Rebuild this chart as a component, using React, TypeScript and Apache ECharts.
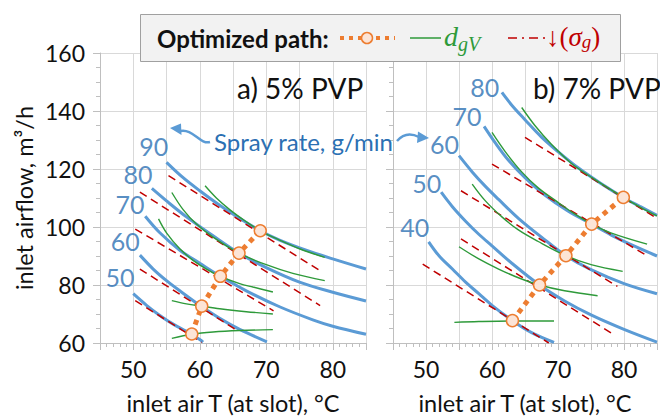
import React, { useEffect, useRef } from 'react';
import * as echarts from 'echarts';

// ---------- Panel a) 5% PVP ----------
const aRateNames = ['50', '60', '70', '80', '90'];
const aRateLabelAt = [[48.0, 82.8], [48.8, 95.2], [49.5, 107.9], [50.7, 118.3], [53.1, 127.9]];
const aRate50 = [[50, 77], [52, 73], [54, 69.5], [56, 66.5], [58, 64], [60, 61.2], [60.5, 60.3]];
const aRate60 = [[51, 90.3], [53, 85.5], [55, 81.5], [57, 78], [60, 73], [63, 68.5], [66, 64.7], [70.1, 60.4]];
const aRate70 = [[51.8, 103.7], [54, 98], [57, 92], [60, 87.5], [63.1, 83], [67, 78], [72, 72.5], [77, 68], [80, 65.8], [85, 63]];
const aRate80 = [[52.8, 113.3], [55, 109], [58, 103.5], [62, 97], [65.9, 91], [70, 86], [75, 81], [80, 77.5], [85, 74.5]];
const aRate90 = [[55, 122.3], [57.5, 117], [60, 112.5], [63, 107.5], [66, 103], [69.1, 98.7], [72, 95.5], [76, 92], [80, 89], [85, 85.5]];

const aDgv1 = [[55.8, 61.6], [58.8, 63], [62, 63.8], [66, 64.3], [71, 64.6]];
const aDgv2 = [[55.8, 74.6], [58, 73.5], [60.3, 72.7], [63, 71.8], [67, 70.8], [71, 70]];
const aDgv3 = [[53.8, 102.8], [55, 98], [57, 92.5], [59, 88.5], [61, 85.5], [63.1, 83], [66, 80.5], [68, 79.3], [71, 77.6]];
const aDgv4 = [[55.8, 111.9], [57.5, 106], [59.5, 101], [62, 96.5], [65.9, 91], [70, 87], [74, 84], [78.8, 81.5]];
const aDgv5 = [[60.8, 114.2], [62.5, 110], [64.5, 106], [67, 101.8], [69.1, 98.7], [72, 95.5], [75, 92.5], [78.8, 89.5]];

const aSig50 = [[50.3, 74.6], [60.3, 60.2]];
const aSig60 = [[51, 85.5], [65.3, 64.8]];
const aSig70 = [[50.3, 99.3], [71.1, 71.1]];
const aSig80 = [[51, 112], [78.1, 72.9]];
const aSig90 = [[55.3, 117.7], [78.1, 84.9]];

const aPath = [[58.8, 63.1], [60.3, 72.7], [63.1, 83], [65.9, 91], [69.1, 98.7]];

// ---------- Panel b) 7% PVP ----------
const bRateNames = ['40', '50', '60', '70', '80'];
const bRateLabelAt = [[48.3, 100.0], [50.1, 115.2], [52.8, 128.6], [56.2, 138.3], [58.9, 148.3]];
const bRate40 = [[50.4, 94.9], [52, 90], [54, 85.5], [56, 81], [58, 77], [60, 73], [63.1, 67.7], [66, 63.6], [69.4, 60.2]];
const bRate50 = [[52.3, 112], [54, 107], [56, 102], [58, 97.5], [60, 93.5], [63, 87.5], [67.2, 80], [71, 74.5], [75, 69.7], [80, 64.7], [85, 60.3]];
const bRate60 = [[55, 124.6], [57, 119], [59, 114], [61, 109.5], [64, 103], [67.5, 96.5], [71.2, 90.1], [75, 85.3], [80, 80.5], [85, 77]];
const bRate70 = [[58.8, 134.7], [60.5, 129], [62.5, 123], [65, 117], [68, 111], [71.5, 105.5], [75.1, 101], [78, 97.3], [81, 94], [85, 90]];
const bRate80 = [[61.5, 146.4], [63, 142], [65, 137], [67.5, 131], [70, 126], [73, 120.5], [76.5, 115], [79.9, 110.2], [82.5, 107], [85, 104]];

const bDgv1 = [[54.3, 67.1], [58, 67.4], [63.1, 67.6], [69.4, 67.6]];
const bDgv2 = [[55, 93.2], [58, 89], [61, 85.5], [64, 82.5], [67.2, 80], [71, 78], [76, 76.3]];
const bDgv3 = [[57, 114.8], [59, 109], [61.5, 103.5], [64, 99], [67, 95], [71.2, 90.1], [75, 87], [79.8, 84.7]];
const bDgv4 = [[60, 132.6], [62, 126], [64.5, 119], [67, 113.5], [70, 108.5], [72.5, 104.5], [75.1, 101], [78, 98], [83.5, 94.1]];
const bDgv5 = [[64.5, 141.2], [66.5, 135], [69, 128.5], [72, 122], [75.5, 116.5], [79.9, 110.2], [82.5, 106.8], [85, 103.8]];

const bSig40 = [[49.5, 87.2], [68.6, 60]];
const bSig50 = [[55.3, 95.9], [78.3, 63.1]];
const bSig60 = [[55.3, 112.5], [79, 79.5]];
const bSig70 = [[60, 121.7], [83.5, 90.1]];
const bSig80 = [[65, 130.9], [85, 103]];

const bPath = [[63.1, 67.7], [67.2, 80], [71.2, 90.1], [75.1, 101], [79.9, 110.2]];

// ---------- axes / text ----------
const xMin = 45, xMax = 85, xStep = 5;
const yMin = 60, yMax = 160, yStep = 20;
const xTitle = 'inlet air T (at slot), °C';
const yTitle = 'inlet airflow, m³/h';
const panelTitles = ['a) 5% PVP', 'b) 7% PVP'];
const sprayText = 'Spray rate, g/min';

const BLUE = '#5B9BD5';
const BLUE_TXT = '#2B70B3';
const GREEN = '#2E9A3A';
const RED = '#C00000';
const ORANGE = '#ED7D31';
const FONT = 'Lato';
const MATH = 'Liberation Serif, DejaVu Serif, serif';

function blue(i: number, data: number[][]) {
  return { type: 'line', xAxisIndex: i, yAxisIndex: i, data, smooth: 0.35, symbol: 'none', lineStyle: { color: BLUE, width: 3 }, z: 2, silent: true };
}
function green(i: number, data: number[][]) {
  return { type: 'line', xAxisIndex: i, yAxisIndex: i, data, smooth: 0.35, symbol: 'none', lineStyle: { color: GREEN, width: 1.4 }, z: 4, silent: true };
}
function red(i: number, data: number[][]) {
  return { type: 'line', xAxisIndex: i, yAxisIndex: i, data, symbol: 'none', lineStyle: { color: RED, width: 1.5, type: [8, 5] }, z: 3, silent: true };
}
function path(i: number, data: number[][]) {
  return {
    type: 'line', xAxisIndex: i, yAxisIndex: i, data, symbol: 'circle', symbolSize: 12, showSymbol: true,
    itemStyle: { color: '#FCE4D6', borderColor: ORANGE, borderWidth: 1.5 },
    lineStyle: { color: ORANGE, width: 5, type: 'dotted', cap: 'butt' }, z: 6, silent: true,
  };
}
function labels(i: number, names: string[], at: number[][]) {
  return {
    type: 'scatter', xAxisIndex: i, yAxisIndex: i, symbolSize: 1, itemStyle: { color: 'rgba(0,0,0,0)' },
    data: names.map((n, k) => ({ name: n, value: at[k] })),
    label: { show: true, position: 'inside', formatter: '{b}', fontSize: 25, color: BLUE_TXT, fontFamily: FONT },
    z: 7, silent: true,
  };
}

function xAxis(i: number) {
  return {
    gridIndex: i, type: 'value', min: xMin, max: xMax, interval: xStep,
    axisLine: { show: true, onZero: false, lineStyle: { color: '#BFBFBF' } },
    axisTick: { show: true, length: 7, lineStyle: { color: '#BFBFBF' } },
    minorTick: { show: true, splitNumber: 5, length: 4, lineStyle: { color: '#BFBFBF' } },
    splitLine: { show: true, lineStyle: { color: '#D9D9D9' } },
    axisLabel: { formatter: (v: number) => (v % 10 === 0 ? String(v) : ''), fontSize: 23, color: '#111', fontFamily: FONT, margin: 14 },
    name: xTitle, nameLocation: 'middle', nameGap: 48,
    nameTextStyle: { fontSize: 23.5, color: '#111', fontFamily: FONT },
  };
}
function yAxis(i: number) {
  return {
    gridIndex: i, type: 'value', min: yMin, max: yMax, interval: yStep,
    axisLine: { show: true, onZero: false, lineStyle: { color: '#BFBFBF' } },
    axisTick: { show: true, length: 7, lineStyle: { color: '#BFBFBF' } },
    minorTick: { show: true, splitNumber: 4, length: 4, lineStyle: { color: '#BFBFBF' } },
    splitLine: { show: true, lineStyle: { color: '#D9D9D9' } },
    axisLabel: { show: i === 0, fontSize: 23, color: '#111', fontFamily: FONT, margin: 15 },
    name: i === 0 ? yTitle : '', nameLocation: 'middle', nameGap: 64,
    nameTextStyle: { fontSize: 23.5, color: '#111', fontFamily: FONT },
  };
}

const graphic = [
  // legend box
  { type: 'rect', z: 100, shape: { x: 140.5, y: 14.5, width: 480, height: 47 }, style: { fill: '#F2F2F2', stroke: '#A0A0A0', lineWidth: 1 } },
  { type: 'text', z: 101, x: 157, y: 38, style: { text: 'Optimized path:', fontSize: 24, fontWeight: 'bold', fontFamily: FONT, fill: '#111', verticalAlign: 'middle' } },
  { type: 'line', z: 101, shape: { x1: 340, y1: 38, x2: 395, y2: 38 }, style: { stroke: ORANGE, lineWidth: 4, lineDash: [4, 5] } },
  { type: 'circle', z: 102, shape: { cx: 367, cy: 38, r: 5.5 }, style: { fill: '#FCE4D6', stroke: ORANGE, lineWidth: 1.5 } },
  { type: 'line', z: 101, shape: { x1: 410, y1: 38, x2: 441, y2: 38 }, style: { stroke: GREEN, lineWidth: 1.5 } },
  { type: 'text', z: 101, x: 444, y: 36, style: { text: 'd', fontFamily: MATH, fontStyle: 'italic', fontSize: 28, fill: GREEN, verticalAlign: 'middle' } },
  { type: 'text', z: 101, x: 458, y: 44, style: { text: 'gV', fontFamily: MATH, fontStyle: 'italic', fontSize: 20, fill: GREEN, verticalAlign: 'middle' } },
  { type: 'line', z: 101, shape: { x1: 508, y1: 38, x2: 545, y2: 38 }, style: { stroke: RED, lineWidth: 1.5, lineDash: [9, 5, 2, 5] } },
  {
    type: 'text', z: 101, x: 546, y: 37,
    style: {
      text: '{u|↓(}{i|σ}{s|g}{u|)}', verticalAlign: 'middle',
      rich: {
        u: { fontFamily: MATH, fontSize: 27, fill: RED },
        i: { fontFamily: MATH, fontStyle: 'italic', fontSize: 27, fill: RED },
        s: { fontFamily: MATH, fontStyle: 'italic', fontSize: 19, fill: RED, verticalAlign: 'bottom' },
      },
    },
  },
  // panel titles
  { type: 'text', z: 50, x: 237, y: 88, style: { text: panelTitles[0], fontSize: 28, fontFamily: FONT, fill: '#111', verticalAlign: 'middle' } },
  { type: 'text', z: 50, x: 533, y: 88, style: { text: panelTitles[1], fontSize: 28, fontFamily: FONT, fill: '#111', verticalAlign: 'middle' } },
  // spray rate annotation
  { type: 'text', z: 50, x: 214, y: 141, style: { text: sprayText, fontSize: 24, fontFamily: FONT, fill: BLUE_TXT, verticalAlign: 'middle' } },
  { type: 'bezierCurve', z: 50, shape: { x1: 210, y1: 142, cpx1: 200, cpy1: 145, cpx2: 193, cpy2: 128, x2: 180, y2: 131 }, style: { stroke: BLUE, lineWidth: 2.5, fill: 'none' } },
  { type: 'polygon', z: 50, shape: { points: [[170, 128], [181, 123.5], [181.5, 135]] }, style: { fill: BLUE } },
  { type: 'bezierCurve', z: 50, shape: { x1: 397, y1: 141, cpx1: 403, cpy1: 134, cpx2: 411, cpy2: 133, x2: 419, y2: 137 }, style: { stroke: BLUE, lineWidth: 2.5, fill: 'none' } },
  { type: 'polygon', z: 50, shape: { points: [[429, 138], [418, 131.5], [417, 143]] }, style: { fill: BLUE } },
];

const option = {
  animation: false,
  backgroundColor: '#fff',
  grid: [
    { left: 100, right: 294, top: 53, bottom: 76 },
    { left: 393, right: 0, top: 53, bottom: 76 },
  ],
  xAxis: [xAxis(0), xAxis(1)],
  yAxis: [yAxis(0), yAxis(1)],
  graphic,
  series: [
    blue(0, aRate50), blue(0, aRate60), blue(0, aRate70), blue(0, aRate80), blue(0, aRate90),
    red(0, aSig50), red(0, aSig60), red(0, aSig70), red(0, aSig80), red(0, aSig90),
    green(0, aDgv1), green(0, aDgv2), green(0, aDgv3), green(0, aDgv4), green(0, aDgv5),
    path(0, aPath), labels(0, aRateNames, aRateLabelAt),
    blue(1, bRate40), blue(1, bRate50), blue(1, bRate60), blue(1, bRate70), blue(1, bRate80),
    red(1, bSig40), red(1, bSig50), red(1, bSig60), red(1, bSig70), red(1, bSig80),
    green(1, bDgv1), green(1, bDgv2), green(1, bDgv3), green(1, bDgv4), green(1, bDgv5),
    path(1, bPath), labels(1, bRateNames, bRateLabelAt),
  ],
};

export default function App() {
  const ref = useRef<HTMLDivElement>(null);
  useEffect(() => {
    document.body.style.margin = '0';
    const chart = echarts.init(ref.current!, null, { renderer: 'svg' });
    chart.setOption(option as any);
    return () => chart.dispose();
  }, []);
  return <div ref={ref} style={{ width: 660, height: 420 }} />;
}
